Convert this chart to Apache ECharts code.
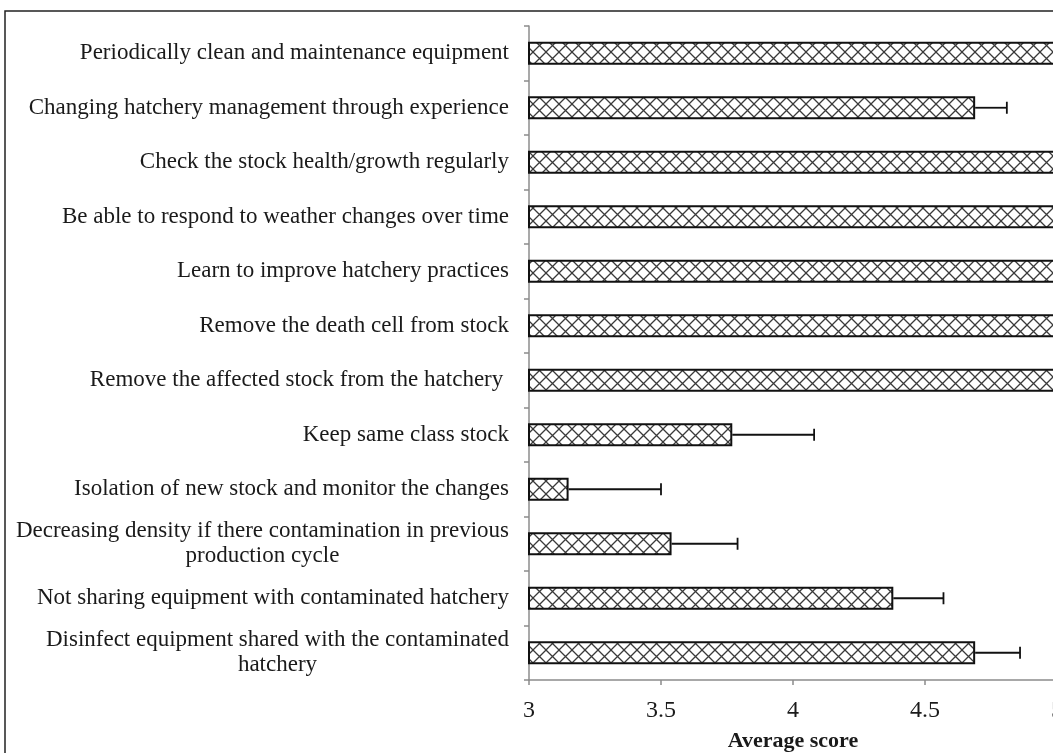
<!DOCTYPE html>
<html>
<head>
<meta charset="utf-8">
<script src="https://cdn.jsdelivr.net/npm/echarts@6/dist/echarts.min.js"></script>
<style>
html,body{margin:0;padding:0;background:#fff;}
#chart{width:1053px;height:753px;}
</style>
</head>
<body>
<div id="chart"></div>
<script>
// practices, top to bottom as in the figure
var practices = [
    'Periodically clean and maintenance equipment',
    'Changing hatchery management through experience',
    'Check the stock health/growth regularly',
    'Be able to respond to weather changes over time',
    'Learn to improve hatchery practices',
    'Remove the death cell from stock',
    'Remove the affected stock from the hatchery ',
    'Keep same class stock',
    'Isolation of new stock and monitor the changes',
    'Decreasing density if there contamination in previous\nproduction cycle',
    'Not sharing equipment with contaminated hatchery',
    'Disinfect equipment shared with the contaminated\nhatchery'
];
var avgScore = [5, 4.69, 5, 5, 5, 5, 5, 3.77, 3.15, 3.54, 4.38, 4.69];
var stdErr   = [0, 0.12, 0, 0, 0, 0, 0, 0.31, 0.35, 0.25, 0.19, 0.17];
var xTicks = [3, 3.5, 4, 4.5, 5];

var myChart = echarts.init(document.getElementById('chart'));

// crosshatch fill like the excel pattern
var T = 13;
var hatch = document.createElement('canvas');
hatch.width = hatch.height = T;
var ctx = hatch.getContext('2d');
ctx.fillStyle = '#fff';
ctx.fillRect(0, 0, T, T);
ctx.strokeStyle = '#3a3a3a';
ctx.lineWidth = 1.3;
ctx.beginPath();
ctx.moveTo(0, 0); ctx.lineTo(T, T);
ctx.moveTo(T, 0); ctx.lineTo(0, T);
ctx.stroke();

var errData = avgScore.map(function (v, i) {
    return [i, v, stdErr[i]];
});

var serif = '"Liberation Serif", "Times New Roman", serif';

var option = {
    backgroundColor: '#fff',
    animation: false,
    graphic: [{
        type: 'rect',
        shape: {x: 5, y: 11, width: 1200, height: 900},
        style: {fill: 'none', stroke: '#222', lineWidth: 1.5},
        silent: true
    }],
    grid: {left: 529, width: 528, top: 26, height: 654, containLabel: false, outerBoundsMode: 'none'},
    xAxis: {
        type: 'value',
        min: 3,
        max: 5,
        interval: 0.5,
        name: 'Average score',
        nameLocation: 'middle',
        nameGap: 50,
        nameTextStyle: {fontFamily: serif, fontSize: 22, fontWeight: 'bold', color: '#1a1a1a'},
        axisLine: {show: true, lineStyle: {color: '#8c8c8c', width: 1.5}},
        axisTick: {show: true, length: 5, lineStyle: {color: '#8c8c8c', width: 1.5}},
        axisLabel: {
            fontFamily: serif, fontSize: 24, color: '#1a1a1a', margin: 19,
            showMaxLabel: true,
            formatter: function (v) { return xTicks.indexOf(v) >= 0 ? String(v) : ''; }
        },
        splitLine: {show: false}
    },
    yAxis: {
        type: 'category',
        data: practices,
        inverse: true,
        axisLine: {show: true, lineStyle: {color: '#8c8c8c', width: 1.5}},
        axisTick: {show: true, length: 5, lineStyle: {color: '#8c8c8c', width: 1.5}},
        axisLabel: {
            interval: 0,
            margin: 20,
            color: '#1a1a1a',
            fontFamily: serif,
            fontSize: 23,
            formatter: function (v) {
                return v.split('\n').map(function (s) { return '{c|' + s + '}'; }).join('\n');
            },
            rich: {
                c: {align: 'center', fontFamily: serif, fontSize: 23, color: '#1a1a1a', lineHeight: 25}
            }
        }
    },
    series: [{
        type: 'bar',
        data: avgScore,
        barWidth: 23,
        itemStyle: {
            color: {image: hatch, repeat: 'repeat'},
            borderColor: '#111',
            borderWidth: 2
        },
        z: 2
    }, {
        type: 'custom',
        data: errData,
        z: 3,
        renderItem: function (params, api) {
            var cat = api.value(0);
            var v = api.value(1);
            var e = api.value(2);
            if (!e) return null;
            var p0 = api.coord([v, cat]);
            var p1 = api.coord([v + e, cat]);
            var style = {stroke: '#111', lineWidth: 1.8};
            return {
                type: 'group',
                children: [{
                    type: 'line',
                    shape: {x1: p0[0], y1: p0[1], x2: p1[0], y2: p1[1]},
                    style: style
                }, {
                    type: 'line',
                    shape: {x1: p1[0], y1: p1[1] - 6, x2: p1[0], y2: p1[1] + 6},
                    style: style
                }]
            };
        }
    }]
};

if (option && typeof option === "object") {
    myChart.setOption(option, true);
}
</script>
</body>
</html>
